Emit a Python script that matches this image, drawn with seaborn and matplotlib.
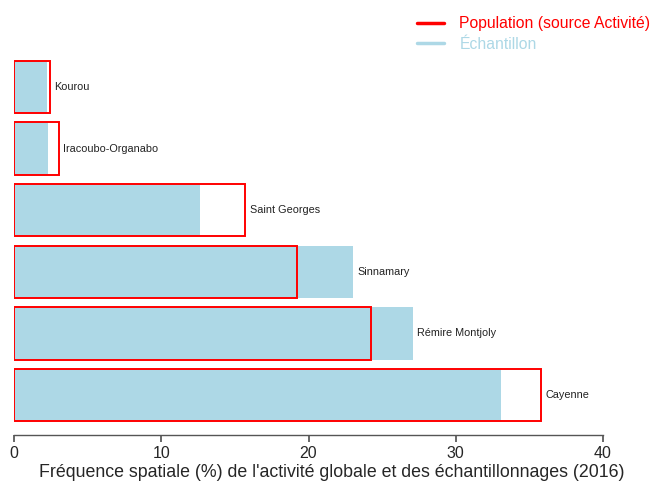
import matplotlib
matplotlib.use("Agg")
import matplotlib.pyplot as plt
from matplotlib.lines import Line2D
import seaborn as sns
import pandas as pd

# ── Data ──────────────────────────────────────────────────
communes     = ["Kourou", "Iracoubo-Organabo", "Saint Georges",
                "Sinnamary", "Rémire Montjoly", "Cayenne"]
echantillon  = [2.25, 2.3, 12.6, 23.0, 27.1, 33.1]
population   = [2.45, 3.05, 15.7, 19.2, 24.25, 35.8]
x_ticks      = [0, 10, 20, 30, 40]

BLUE = "#ADD8E6"
RED  = "#FF0000"
AXIS_CLR = "#555555"

sns.set_theme(style="white")
plt.rcParams["font.family"] = ["Liberation Sans", "DejaVu Sans"]

df = pd.DataFrame({"commune": communes, "ech": echantillon, "pop": population})

fig = plt.figure(figsize=(6.56, 4.84), dpi=100)
ax = fig.add_axes([14 / 656, 1 - 435 / 484, (603 - 14) / 656, (435 - 50) / 484])

# sample (filled) then population (outline only)
sns.barplot(data=df, y="commune", x="ech", order=communes, color=BLUE,
            width=0.85, saturation=1, edgecolor="none", ax=ax)
sns.barplot(data=df, y="commune", x="pop", order=communes, color=RED,
            width=0.85, saturation=1, fill=False, linewidth=1.4, ax=ax)

for i, (c, e, p) in enumerate(zip(communes, echantillon, population)):
    ax.text(max(e, p) + 0.3, i, c, va="center", ha="left",
            fontsize=7.8, color="#222222")

ax.set_xlim(0, 40)
ax.set_ylim(5.65, -0.6)
ax.set_xticks(x_ticks)
ax.set_xticklabels([str(t) for t in x_ticks], fontsize=11.5)
ax.set_yticks([])
ax.set_ylabel("")
ax.set_xlabel("Fréquence spatiale (%) de l'activité globale et des échantillonnages (2016)",
              fontsize=12.8)
ax.xaxis.set_label_coords(0.54, -0.075)
for s in ["top", "right", "left"]:
    ax.spines[s].set_visible(False)
ax.spines["bottom"].set_color(AXIS_CLR)
ax.spines["bottom"].set_linewidth(1)
ax.tick_params(axis="x", bottom=True, length=5, color=AXIS_CLR, pad=3)

handles = [Line2D([0], [0], color=RED, lw=2.5),
           Line2D([0], [0], color=BLUE, lw=2.5)]
fig.legend(handles, ["Population (source Activité)", "Échantillon"],
           loc="upper left", bbox_to_anchor=(417 / 656, 1 - 16 / 484),
           frameon=False, fontsize=11.3, labelcolor=[RED, BLUE],
           handlelength=1.75, handletextpad=0.95, labelspacing=0.38,
           borderpad=0, borderaxespad=0)

fig.savefig("out.png", dpi=100)
